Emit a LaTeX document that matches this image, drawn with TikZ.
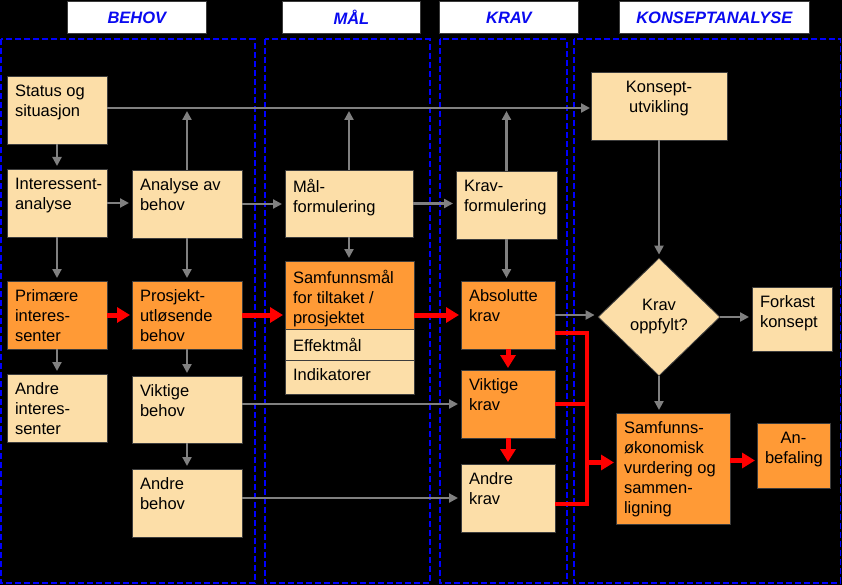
\documentclass[tikz,border=0pt]{standalone}
\usepackage{fontspec}
\setmainfont{Liberation Sans}
\usetikzlibrary{arrows.meta,shapes.geometric,calc}
\definecolor{lightfill}{RGB}{252,222,168}
\definecolor{orangefill}{RGB}{255,154,54}
\definecolor{bordc}{RGB}{60,60,60}
\definecolor{arrgray}{RGB}{128,128,128}
\definecolor{hdrblue}{RGB}{10,10,240}
\definecolor{colblue}{RGB}{0,0,255}
\newcommand\bxfont{\fontsize{16.5pt}{20pt}\selectfont}
\hyphenpenalty=10000
\exhyphenpenalty=10000
% name, x, y, w, h, fill, alignment, text
\newcommand\bx[8]{%
\node[bxs, fill=#6, minimum width=#4pt, minimum height=#5pt, anchor=north west] (#1) at (#2,#3)
{\parbox[c][\dimexpr#5pt-18pt\relax][t]{\dimexpr#4pt-16pt\relax}{#7#8}};}
\tikzset{
  bxs/.style={draw=bordc, line width=0.8pt, inner sep=0pt, outer sep=0pt, font=\bxfont, text=black},
  hdr/.style={draw=bordc, fill=white, line width=0.8pt, inner sep=0pt, anchor=north west,
    minimum height=32pt, font=\fontsize{16.5pt}{20pt}\selectfont\bfseries\itshape, text=hdrblue},
  colbox/.style={draw=colblue, line width=1.6pt, dash pattern=on 6pt off 3pt},
  garr/.style={draw=arrgray, line width=2.2pt, -{Triangle[length=9pt,width=9pt]}, shorten >=3pt},
  rarr/.style={draw=red, line width=5pt, -{Triangle[length=13pt,width=15pt]}, shorten >=2pt},
  rbus/.style={draw=red, line width=4.7pt, line join=miter},
}
\begin{document}
\begin{tikzpicture}[x=1pt,y=-1pt]
\fill[black] (0,0) rectangle (842,585);
\useasboundingbox (0,0) rectangle (842,585);
% column frames
\draw[colbox] (1,39.3) rectangle (255,583);
\draw[colbox] (265,39.3) rectangle (430,583);
\draw[colbox] (440,39.3) rectangle (567,583);
\draw[colbox] (574,39.3) rectangle (840.5,583);
% headers
\node[hdr, minimum width=139pt] (hbehov) at (67,1) {BEHOV};
\node[hdr, minimum width=138pt] (hmal) at (282,1) {MÅL};
\node[hdr, minimum width=139pt] (hkrav) at (439,1) {KRAV};
\node[hdr, minimum width=190pt] (hkons) at (619,1) {KONSEPTANALYSE};
% BEHOV column
\bx{st}{7}{76}{100}{68}{lightfill}{\raggedright}{Status og\\situasjon}
\bx{ia}{7}{169}{100}{68}{lightfill}{\raggedright}{Interessent-\\analyse}
\bx{pi}{7}{281}{100}{68}{orangefill}{\raggedright}{Primære\\interes-\\senter}
\bx{ai}{7}{374}{100}{68}{lightfill}{\raggedright}{Andre\\interes-\\senter}
\bx{ab}{132}{170}{110}{68}{lightfill}{\raggedright}{Analyse av\\behov}
\bx{pb}{132}{281}{110}{68}{orangefill}{\raggedright}{Prosjekt-\\utløsende\\behov}
\bx{vb}{132}{376}{110}{67}{lightfill}{\raggedright}{Viktige\\behov}
\bx{anb}{132}{469}{110}{68}{lightfill}{\raggedright}{Andre\\behov}
% MÅL column
\bx{mf}{285}{170}{128}{67}{lightfill}{\raggedright}{Mål-\\formulering}
\bx{sm}{285}{261}{129}{68}{orangefill}{\raggedright}{Samfunnsmål\\for tiltaket /\\prosjektet}
\bx{em}{285}{329}{129}{31}{lightfill}{\raggedright}{Effektmål}
\bx{ind}{285}{360}{129}{34}{lightfill}{\raggedright}{Indikatorer}
% KRAV column
\bx{kf}{456}{171}{101}{68}{lightfill}{\raggedright}{Krav-\\formulering}
\bx{ak}{461}{281}{94}{68}{orangefill}{\raggedright}{Absolutte\\krav}
\bx{vk}{461}{370}{94}{68}{orangefill}{\raggedright}{Viktige\\krav}
\bx{and}{461}{464}{94}{68}{lightfill}{\raggedright}{Andre\\krav}
% KONSEPTANALYSE column
\bx{ku}{591}{72}{136}{68}{lightfill}{\centering}{Konsept-\\utvikling}
\node[diamond, draw=bordc, fill=lightfill, line width=0.8pt, minimum width=122pt, minimum height=118pt,
  inner sep=0pt, align=center, font=\bxfont] (dia) at (659,317) {Krav\\oppfylt?};
\bx{fk}{752}{287}{80}{64}{lightfill}{\raggedright}{Forkast\\konsept}
\bx{se}{616}{413}{114}{111}{orangefill}{\raggedright}{Samfunns-\\økonomisk\\vurdering og\\sammen-\\ligning}
\bx{anbef}{757}{423}{73}{65}{orangefill}{\centering}{An-\\befaling}
% gray connectors
\coordinate (lineL) at ([yshift=2pt]st.east);
\draw[garr, shorten >=1pt] (lineL) -- (lineL -| ku.west);
\draw[garr] (ab.north) -- (ab.north |- lineL);
\draw[garr] (mf.north) -- (mf.north |- lineL);
\draw[garr] (kf.north) -- (kf.north |- lineL);
\draw[garr] (st.south) -- (ia.north);
\draw[garr] (ia.east) -- (ia.east -| ab.west);
\draw[garr] (ab.east) -- (ab.east -| mf.west);
\draw[garr] (mf.east) -- (mf.east -| kf.west);
\draw[garr] (ia.south) -- (pi.north);
\draw[garr] (ab.south) -- (pb.north);
\draw[garr] (mf.south) -- (mf.south |- sm.north);
\draw[garr] (kf.south) -- (kf.south |- ak.north);
\draw[garr] (pi.south) -- (ai.north);
\draw[garr] (pb.south) -- (vb.north);
\draw[garr] (vb.south) -- (anb.north);
\draw[garr] (vk.west -| vb.east) -- (vk.west);
\draw[garr] (and.west -| anb.east) -- (and.west);
\draw[garr] (ku.south) -- (ku.south |- dia.north);
\draw[garr] (ak.east) -- (ak.east -| dia.west);
\draw[garr] (dia.east) -- (dia.east -| fk.west);
\draw[garr] (dia.south) -- (dia.south |- se.north);
% red connectors
\draw[rarr] (pi.east) -- (pi.east -| pb.west);
\draw[rarr] (pb.east) -- (pb.east -| sm.west);
\draw[rarr] (ak.west -| sm.east) -- (ak.west);
\draw[rarr] (ak.south) -- (vk.north);
\draw[rarr] (vk.south) -- (and.north);
\coordinate (bus) at (587,504);
\draw[rbus] ([yshift=-18pt]ak.east) -| (bus) -- (bus -| and.east);
\draw[rbus] (vk.east) -- (vk.east -| bus);
\draw[rarr] ([yshift=6pt]se.west -| bus) -- ([yshift=6pt]se.west);
\draw[rarr] ([yshift=8pt]se.east) -- ([yshift=8pt]se.east -| anbef.west);
\end{tikzpicture}
\end{document}
